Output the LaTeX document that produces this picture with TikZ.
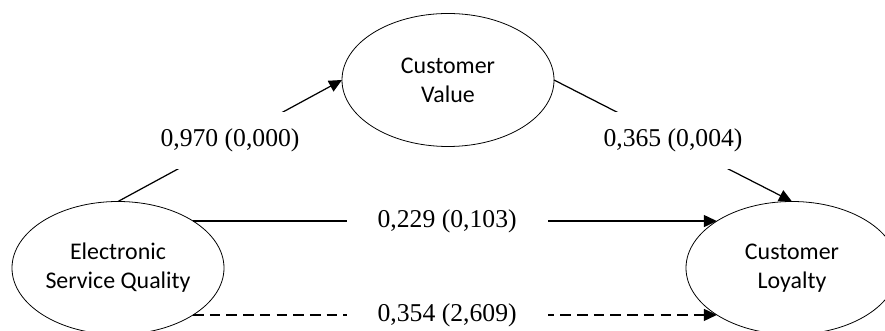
\documentclass[tikz,border=0pt]{standalone}
\usepackage{fontspec}
\setmainfont{Liberation Serif}
\newfontfamily\calibrifont{Carlito}
\usetikzlibrary{shapes.geometric,arrows.meta}
\tikzset{
  construct/.style={draw, ellipse, line width=0.45pt, minimum width=4.24cm, minimum height=2.66cm,
    inner sep=0pt, outer sep=0pt, align=center, font=\calibrifont\fontsize{13.6}{16.5}\selectfont},
  link/.style={line width=0.7pt, -{Triangle[length=0.26cm,width=0.24cm]}},
  coef/.style={fill=white, font=\fontsize{14.6}{17}\selectfont, inner xsep=2pt, minimum height=1.14cm},
  coefwide/.style={fill=white, font=\fontsize{14.6}{17}\selectfont, inner xsep=0.62cm, inner ysep=1pt}
}

\begin{document}
\begin{tikzpicture}
    \useasboundingbox (0,0) rectangle (17.7,6.62);
    % Constructs
    \node[construct] (esq) at (2.36,1.26) {Electronic\\Service Quality};
    \node[construct] (cv) at (8.96,5.02) {Customer\\Value};
    \node[construct] (cl) at (15.84,1.26) {Customer\\Loyalty};
    % Paths with coefficients
    \draw[link] (esq.north) -- node[coef] {0,970 (0,000)} (cv.west);
    \draw[link] (cv.east) -- node[coef] {0,365 (0,004)} (cl.north);
    \draw[link] (esq.32) -- node[coefwide, pos=0.485] {0,229 (0,103)} (cl.148);
    \draw[link, dash pattern=on 6pt off 3.5pt] (esq.-32) -- node[coefwide, pos=0.485] {0,354 (2,609)} (cl.-148);
\end{tikzpicture}
\end{document}
